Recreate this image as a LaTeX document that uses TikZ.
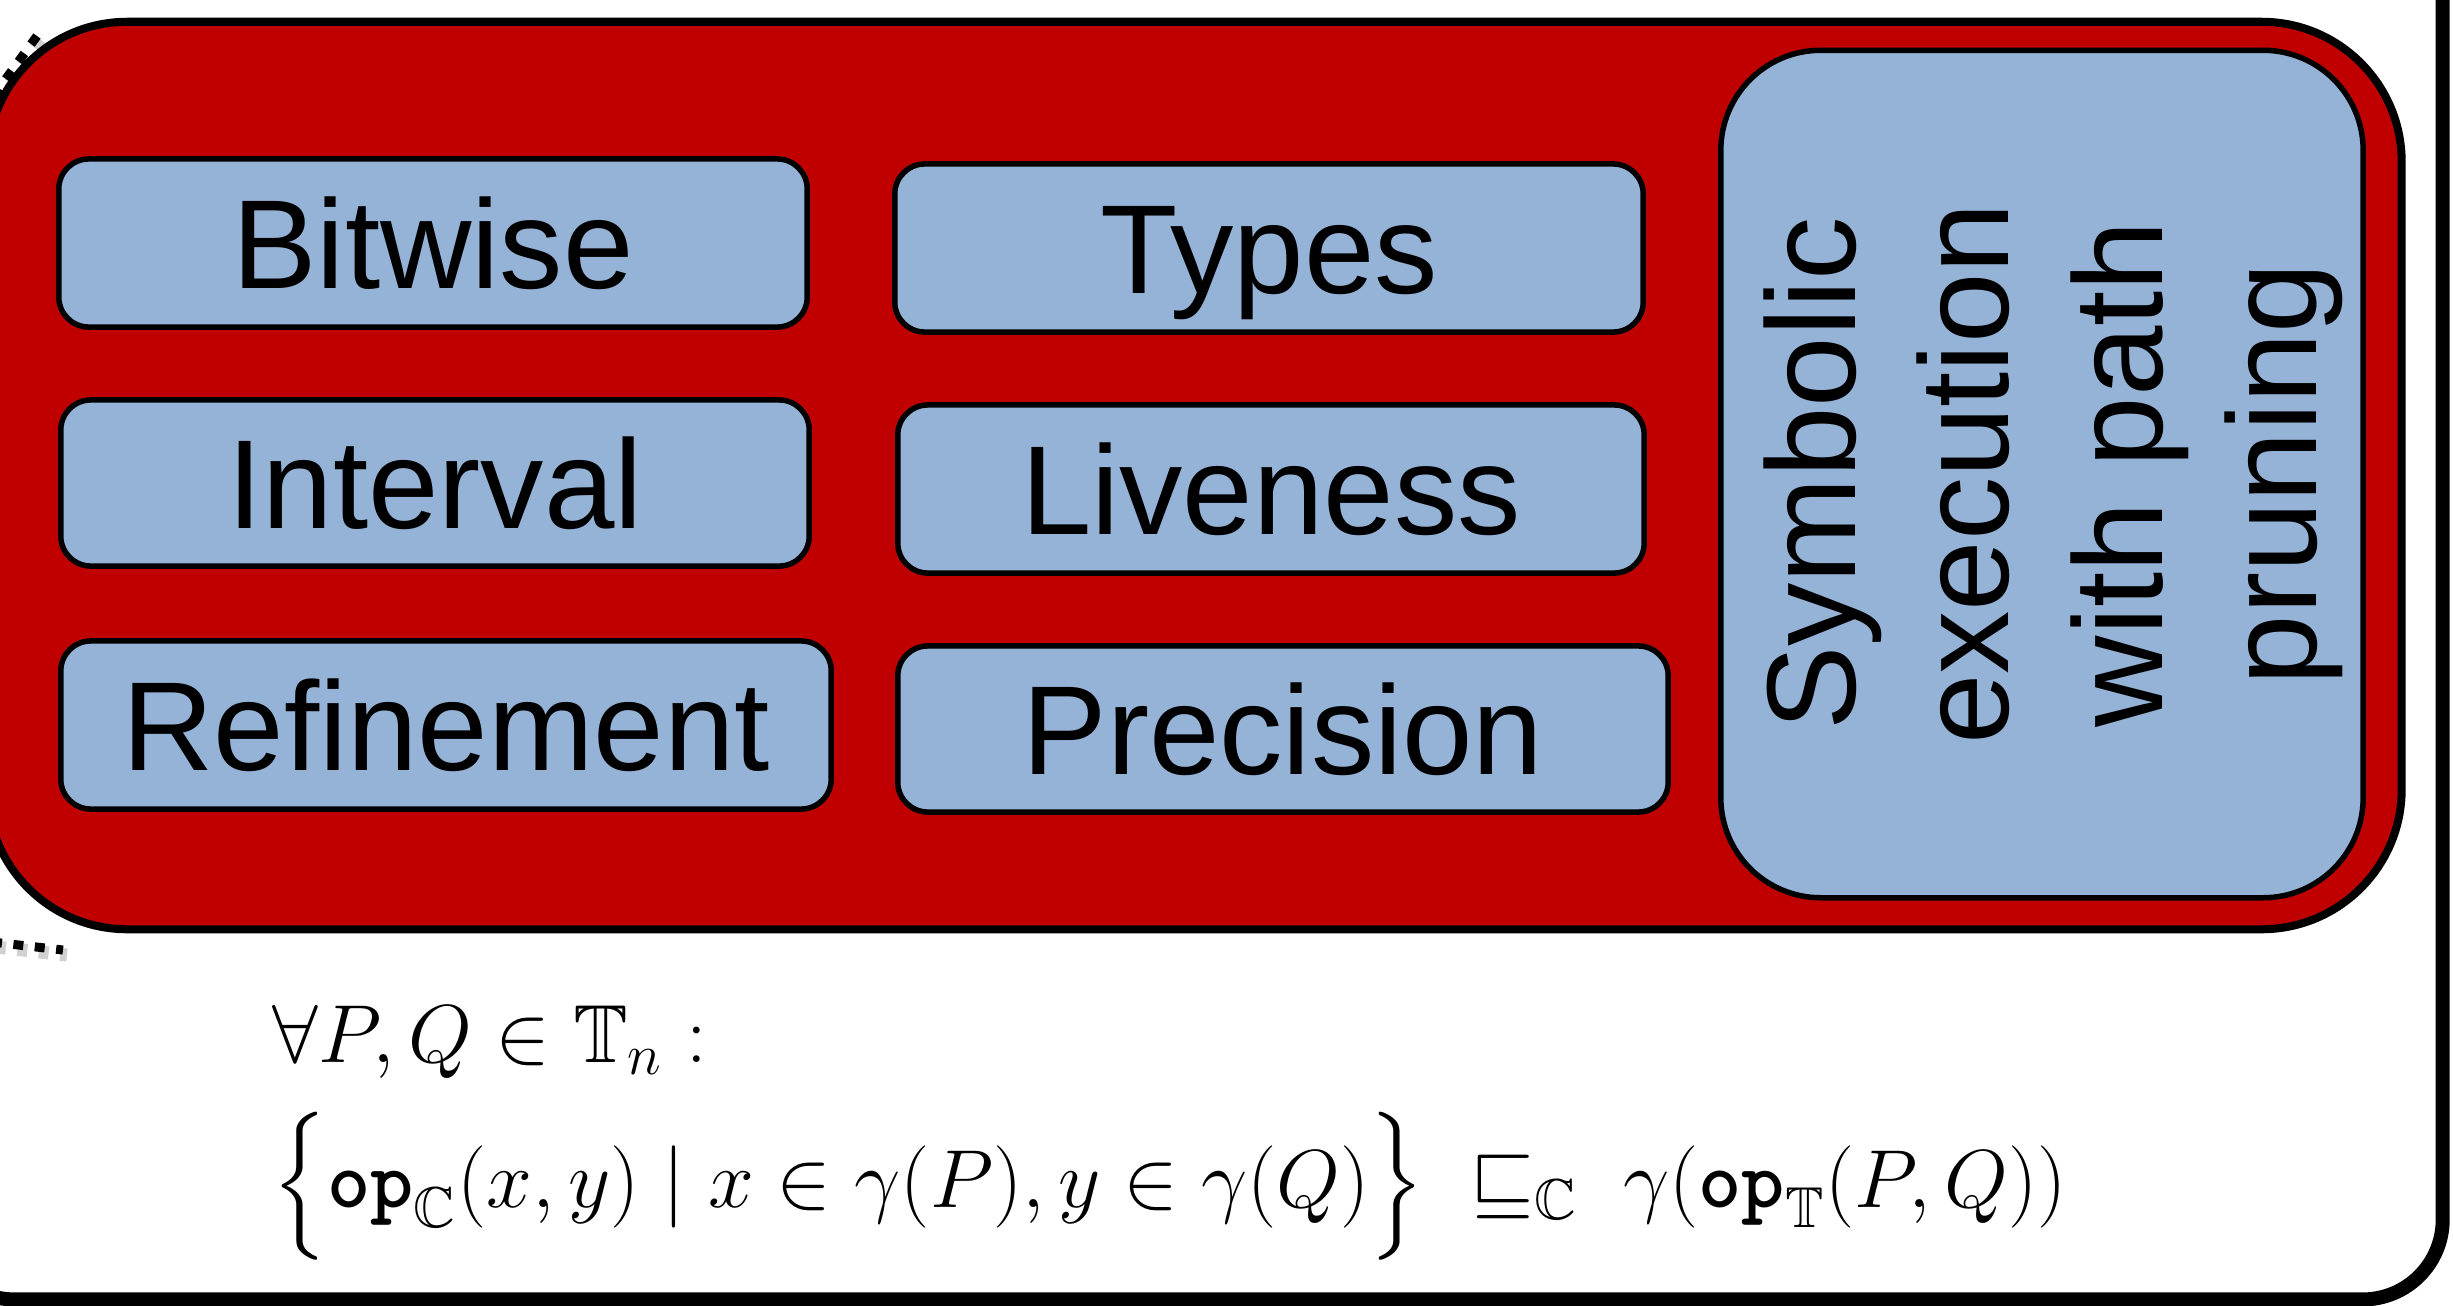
\RequirePackage{fix-cm}
\documentclass[tikz,border=0pt]{standalone}
\usepackage{amsmath}
\usepackage{amssymb}
\usepackage{fontspec}
\newfontfamily\labelfont{Liberation Sans}
\definecolor{domainred}{RGB}{192,0,0}
\definecolor{domainblue}{RGB}{149,179,215}
\newcommand{\opname}{\mbox{\ttfamily\bfseries op}}

\tikzset{
  frame/.style={draw=black, line width=0.14cm, fill=white, rounded corners=0.8cm, inner sep=0pt},
  redbox/.style={draw=black, line width=0.08cm, fill=domainred, rounded corners=1.4cm, inner sep=0pt},
  domainbox/.style={draw=black, line width=0.055cm, fill=domainblue, rounded corners=0.3cm,
    inner sep=0pt, font=\labelfont\fontsize{36}{44}\selectfont, text height=25.8pt, text depth=0pt},
  symbox/.style={draw=black, line width=0.055cm, fill=domainblue, rounded corners=1.0cm,
    inner sep=0pt, align=center, font=\labelfont\fontsize{36}{44}\selectfont},
  callout/.style={line width=0.09cm, dash pattern=on 0.1cm off 0.115cm},
  calloutshadow/.style={line width=0.13cm, dash pattern=on 0.1cm off 0.115cm, black, opacity=0.18},
  formula/.style={inner sep=0pt, font=\fontsize{23.4}{28}\selectfont}
}

\begin{document}
\begin{tikzpicture}[x=0.01cm, y=-0.01cm]
  \useasboundingbox (0,0) rectangle (2453,1305);
  \fill[white] (0,0) rectangle (2453,1305);

  % surrounding white panel
  \node[frame, minimum width=25.07cm, minimum height=14.99cm] (panel) at (1188.5,549.5) {};

  % dotted callout lines on the left
  \coordinate (ta) at (37,36);
  \coordinate (tb) at (-8,98);
  \coordinate (ba) at (-8,942);
  \coordinate (bb) at (63,950);
  \coordinate (tas) at (41,40);
  \coordinate (tbs) at (-4,102);
  \coordinate (bas) at (-4,947);
  \coordinate (bbs) at (67,955);
  \draw[calloutshadow] (tas) -- (tbs);
  \draw[calloutshadow] (bas) -- (bbs);
  \draw[callout] (ta) -- (tb);
  \draw[callout] (ba) -- (bb);

  % red container of the domains
  \node[redbox, minimum width=24.13cm, minimum height=9.07cm] (domains) at (1194.5,475.5) {};

  % domain boxes
  \node[domainbox, minimum width=7.48cm, minimum height=1.68cm] (bitwise) at (433,243) {Bitwise};
  \node[domainbox, minimum width=7.48cm, minimum height=1.68cm] (types) at (1269,248) {Types};
  \node[domainbox, minimum width=7.48cm, minimum height=1.66cm] (interval) at (435,483) {Interval};
  \node[domainbox, minimum width=7.46cm, minimum height=1.68cm] (liveness) at (1271,489) {Liveness};
  \node[domainbox, minimum width=7.70cm, minimum height=1.68cm] (refinement) at (446,725) {Refinement};
  \node[domainbox, minimum width=7.70cm, minimum height=1.66cm] (precision) at (1283,729) {Precision};

  \node[symbox, minimum width=6.42cm, minimum height=8.47cm] (symex) at (2042,474) {};
  \node[rotate=90, align=center, inner sep=0pt, font=\labelfont\fontsize{36}{43.7}\selectfont]
    (symlabel) at ([xshift=0.11cm]symex.center) {Symbolic\\execution\\with path\\pruning};

  % soundness condition
  \node[formula, anchor=base west] (quant) at (272,1062) {$\forall P, Q \in \mathbb{T}_n :$};
  \node[formula, anchor=base west] (sound) at (272,1207)
    {$\Big\{ \opname_{\mathbb{C}}(x,y) \mid x \in \gamma(P), y \in \gamma(Q) \Big\} \;\sqsubseteq_{\mathbb{C}}\; \gamma(\opname_{\mathbb{T}}(P,Q))$};
\end{tikzpicture}
\end{document}
